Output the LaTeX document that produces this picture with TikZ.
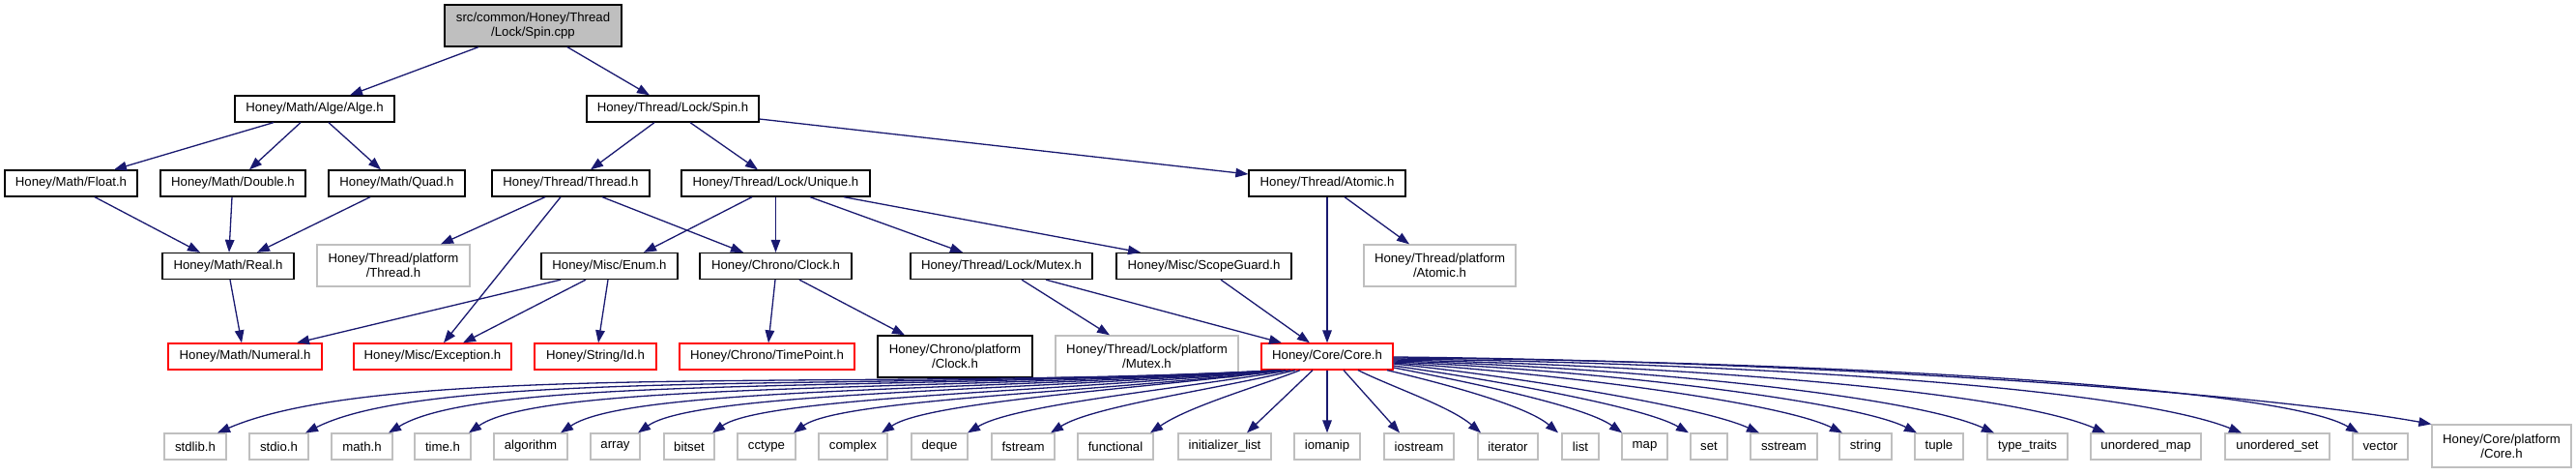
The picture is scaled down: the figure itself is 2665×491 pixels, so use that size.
\documentclass[tikz,border=0pt]{standalone}
\usepackage{fontspec}
\setmainfont{Liberation Sans}
\usetikzlibrary{arrows.meta}
\definecolor{edgeblue}{RGB}{25,25,112}
\definecolor{grayline}{RGB}{191,191,191}
\definecolor{rootfill}{RGB}{191,191,191}
\definecolor{redline}{RGB}{255,0,0}
\begin{document}
\begin{tikzpicture}[x=1pt,y=-1pt,
  base/.style={draw, line width=1.3pt, inner sep=0pt, align=center,
    font=\fontsize{13.2}{15.3}\selectfont, minimum height=27pt},
  doc/.style={base, draw=black},
  ext/.style={base, draw=grayline},
  trunc/.style={base, draw=redline},
  rootnode/.style={base, draw=black, fill=rootfill},
  edge/.style={draw=edgeblue, line width=1.3pt, -{Triangle[length=13pt,width=9.5pt]}}
]
\useasboundingbox (0,0) rectangle (2665,491);

% row 0
\node[rootnode, minimum width=183pt, minimum height=43pt] (root) at (551.5,26.5) {src/common/Honey/Thread\\/Lock/Spin.cpp};
% row 1
\node[doc, minimum width=165pt] (alge) at (325.5,112.5) {Honey/Math/Alge/Alge.h};
\node[doc, minimum width=178pt] (spinh) at (696,112.5) {Honey/Thread/Lock/Spin.h};
% row 2
\node[doc, minimum width=137pt] (float) at (73.5,189.5) {Honey/Math/Float.h};
\node[doc, minimum width=150pt] (double) at (241,189.5) {Honey/Math/Double.h};
\node[doc, minimum width=141pt] (quad) at (410.5,189.5) {Honey/Math/Quad.h};
\node[doc, minimum width=163pt] (thread) at (590.5,189.5) {Honey/Thread/Thread.h};
\node[doc, minimum width=195pt] (unique) at (802.5,189.5) {Honey/Thread/Lock/Unique.h};
\node[doc, minimum width=162pt] (atomic) at (1373,189.5) {Honey/Thread/Atomic.h};
% row 3
\node[doc, minimum width=136pt] (real) at (236,275) {Honey/Math/Real.h};
\node[ext, minimum width=158pt, minimum height=43pt] (thplat) at (407,274.5) {Honey/Thread/platform\\/Thread.h};
\node[doc, minimum width=141pt] (enum) at (630.5,275) {Honey/Misc/Enum.h};
\node[doc, minimum width=157pt] (clock) at (802.5,275) {Honey/Chrono/Clock.h};
\node[doc, minimum width=188pt] (mutex) at (1036,275) {Honey/Thread/Lock/Mutex.h};
\node[doc, minimum width=181pt] (scope) at (1245.5,275) {Honey/Misc/ScopeGuard.h};
\node[ext, minimum width=157pt, minimum height=43pt] (atplat) at (1489.5,274.5) {Honey/Thread/platform\\/Atomic.h};
% row 4
\node[trunc, minimum width=159pt] (numeral) at (253.5,368.5) {Honey/Math/Numeral.h};
\node[trunc, minimum width=163pt] (exception) at (447.5,368.5) {Honey/Misc/Exception.h};
\node[trunc, minimum width=126pt] (id) at (616,368.5) {Honey/String/Id.h};
\node[trunc, minimum width=181pt] (timepoint) at (793.5,368.5) {Honey/Chrono/TimePoint.h};
\node[doc, minimum width=160pt, minimum height=43pt] (chplat) at (988,368.5) {Honey/Chrono/platform\\/Clock.h};
\node[ext, minimum width=189pt, minimum height=43pt] (mxplat) at (1186.5,368.5) {Honey/Thread/Lock/platform\\/Mutex.h};
\node[trunc, minimum width=136pt] (core) at (1373,368.5) {Honey/Core/Core.h};
% row 5
\node[ext, minimum width=64pt] (stdlib) at (202,461.5) {stdlib.h};
\node[ext, minimum width=61pt] (stdio) at (288.5,461.5) {stdio.h};
\node[ext, minimum width=63pt] (math) at (374.5,461.5) {math.h};
\node[ext, minimum width=58pt] (time) at (458,461.5) {time.h};
\node[ext, minimum width=76pt] (algorithm) at (549,461.5) {algorithm};
\node[ext, minimum width=51pt] (array) at (636.5,461.5) {array};
\node[ext, minimum width=52pt] (bitset) at (713,461.5) {bitset};
\node[ext, minimum width=60pt] (cctype) at (793,461.5) {cctype};
\node[ext, minimum width=71pt] (complex) at (882.5,461.5) {complex};
\node[ext, minimum width=58pt] (deque) at (972,461.5) {deque};
\node[ext, minimum width=65pt] (fstream) at (1058.5,461.5) {fstream};
\node[ext, minimum width=78pt] (functional) at (1154,461.5) {functional};
\node[ext, minimum width=96pt] (initlist) at (1267,461.5) {initializer\_list};
\node[ext, minimum width=68pt] (iomanip) at (1373,461.5) {iomanip};
\node[ext, minimum width=72pt] (iostream) at (1468,461.5) {iostream};
\node[ext, minimum width=62pt] (iterator) at (1560,461.5) {iterator};
\node[ext, minimum width=38pt] (list) at (1635,461.5) {list};
\node[ext, minimum width=47pt] (map) at (1701.5,461.5) {map};
\node[ext, minimum width=38pt] (set) at (1768,461.5) {set};
\node[ext, minimum width=69pt] (sstream) at (1845.5,461.5) {sstream};
\node[ext, minimum width=54pt] (string) at (1930,461.5) {string};
\node[ext, minimum width=50pt] (tuple) at (2006,461.5) {tuple};
\node[ext, minimum width=83pt] (typetraits) at (2097.5,461.5) {type\_traits};
\node[ext, minimum width=114pt] (umap) at (2220,461.5) {unordered\_map};
\node[ext, minimum width=108pt] (uset) at (2356,461.5) {unordered\_set};
\node[ext, minimum width=57pt] (vector) at (2462.5,461.5) {vector};
\node[ext, minimum width=144pt, minimum height=44pt] (coreplat) at (2588,461) {Honey/Core/platform\\/Core.h};

% upper edges
\draw[edge] ([xshift=-56.5pt]root.south) -- ([xshift=36.5pt]alge.north);
\draw[edge] ([xshift=35.5pt]root.south) -- ([xshift=-24pt]spinh.north);
\draw[edge] ([xshift=-42.5pt]alge.south) -- ([xshift=44.5pt]float.north);
\draw[edge] ([xshift=-14.5pt]alge.south) -- ([xshift=17pt]double.north);
\draw[edge] ([xshift=14.5pt]alge.south) -- ([xshift=-16.5pt]quad.north);
\draw[edge] ([xshift=-19pt]spinh.south) -- ([xshift=20.5pt]thread.north);
\draw[edge] ([xshift=18pt]spinh.south) -- ([xshift=-18.5pt]unique.north);
\draw[edge] ([yshift=-10.5pt]spinh.east) -- ([yshift=9.5pt]atomic.west);
\draw[edge] ([xshift=24.5pt]float.south) -- ([xshift=-29pt]real.north);
\draw[edge] ([xshift=-1pt]double.south) -- ([xshift=1pt]real.north);
\draw[edge] ([xshift=-27.5pt]quad.south) -- ([xshift=30pt]real.north);
\draw[edge] ([xshift=-26.5pt]thread.south) -- ([xshift=49pt]thplat.north);
\draw[edge] ([xshift=-10.5pt]thread.south) -- ([xshift=11.5pt]exception.north);
\draw[edge] ([xshift=32.5pt]thread.south) -- ([xshift=-33.5pt]clock.north);
\draw[edge] ([xshift=-24.5pt]unique.south) -- ([xshift=35.5pt]enum.north);
\draw[edge] (unique.south) -- (clock.north);
\draw[edge] ([xshift=35.5pt]unique.south) -- ([xshift=-40pt]mutex.north);
\draw[edge] ([xshift=70.5pt]unique.south) -- ([xshift=-65.5pt]scope.north);
\draw[edge] ([xshift=2pt]real.south) -- ([xshift=-3.5pt]numeral.north);
\draw[edge] ([xshift=-50.5pt]enum.south) -- ([xshift=53.5pt]numeral.north);
\draw[edge] ([xshift=-24.5pt]enum.south) -- ([xshift=31.5pt]exception.north);
\draw[edge] ([xshift=-1.5pt]enum.south) -- ([xshift=3pt]id.north);
\draw[edge] ([xshift=-0.5pt]clock.south) -- ([xshift=1.5pt]timepoint.north);
\draw[edge] ([xshift=24.5pt]clock.south) -- ([xshift=-52pt]chplat.north);
\draw[edge] ([xshift=21pt]mutex.south) -- ([xshift=-38.5pt]mxplat.north);
\draw[edge] ([xshift=46pt]mutex.south) -- ([xshift=-47pt]core.north);
\draw[edge] ([xshift=17.5pt]scope.south) -- ([xshift=-18pt]core.north);
\draw[edge] (atomic.south) -- (core.north);
\draw[edge] ([xshift=18pt]atomic.south) -- ([xshift=-31.5pt]atplat.north);

% Core.h to the standard headers
\draw[edge] ([xshift=-48pt]core.south) .. controls (900,405) and (400,372) .. ([xshift=23pt]stdlib.north);
\draw[edge] ([xshift=-48pt]core.south) .. controls (900,405) and (450,380) .. ([xshift=27.5pt]stdio.north);
\draw[edge] ([xshift=-48pt]core.south) .. controls (900,405) and (500,388) .. ([xshift=27.5pt]math.north);
\draw[edge] ([xshift=-48pt]core.south) .. controls (950,405) and (560,395) .. ([xshift=27pt]time.north);
\draw[edge] ([xshift=-48pt]core.south) .. controls (1000,405) and (650,400) .. ([xshift=31pt]algorithm.north);
\draw[edge] ([xshift=-48pt]core.south) .. controls (1050,405) and (720,405) .. ([xshift=23.5pt]array.north);
\draw[edge] ([xshift=-48pt]core.south) .. controls (1100,405) and (790,410) .. ([xshift=24pt]bitset.north);
\draw[edge] ([xshift=-48pt]core.south) .. controls (1150,405) and (870,412) .. ([xshift=28pt]cctype.north);
\draw[edge] ([xshift=-43pt]core.south) .. controls (1180,402) and (960,415) .. ([xshift=29.5pt]complex.north);
\draw[edge] ([xshift=-38pt]core.south) .. controls (1220,402) and (1050,418) .. ([xshift=29pt]deque.north);
\draw[edge] ([xshift=-33pt]core.south) .. controls (1260,402) and (1130,420) .. ([xshift=28.5pt]fstream.north);
\draw[edge] ([xshift=-28pt]core.south) .. controls (1300,400) and (1230,420) .. ([xshift=36pt]functional.north);
\draw[edge] ([xshift=-15pt]core.south) -- ([xshift=23pt]initlist.north);
\draw[edge] (core.south) -- (iomanip.north);
\draw[edge] ([xshift=17pt]core.south) -- ([xshift=-20pt]iostream.north);
\draw[edge] ([xshift=32pt]core.south) .. controls (1440,400) and (1500,420) .. ([xshift=-28pt]iterator.north);
\draw[edge] ([xshift=62pt]core.south) .. controls (1500,398) and (1580,420) .. ([xshift=-23pt]list.north);
\draw[edge] ([yshift=-11.5pt]core.east) .. controls (1520,395) and (1640,420) .. ([xshift=-23.5pt]map.north);
\draw[edge] ([yshift=-9.5pt]core.east) .. controls (1540,392) and (1700,420) .. ([xshift=-21pt]set.north);
\draw[edge] ([yshift=-7.5pt]core.east) .. controls (1560,388) and (1760,420) .. ([xshift=-25.5pt]sstream.north);
\draw[edge] ([yshift=-6.5pt]core.east) .. controls (1600,385) and (1840,415) .. ([xshift=-24pt]string.north);
\draw[edge] ([yshift=-5.5pt]core.east) .. controls (1650,382) and (1920,415) .. ([xshift=-23pt]tuple.north);
\draw[edge] ([yshift=-4.5pt]core.east) .. controls (1700,380) and (1980,410) .. ([xshift=-34.5pt]typetraits.north);
\draw[edge] ([yshift=-3.5pt]core.east) .. controls (1750,378) and (2080,405) .. ([xshift=-42pt]umap.north);
\draw[edge] ([yshift=-2.5pt]core.east) .. controls (1800,375) and (2200,400) .. ([xshift=-37pt]uset.north);
\draw[edge] ([yshift=-1.5pt]core.east) .. controls (1800,372) and (2350,395) .. ([xshift=-22.5pt]vector.north);
\draw[edge] ([yshift=-0.5pt]core.east) .. controls (1800,372) and (2300,400) .. (coreplat.north west);
\end{tikzpicture}
\end{document}
